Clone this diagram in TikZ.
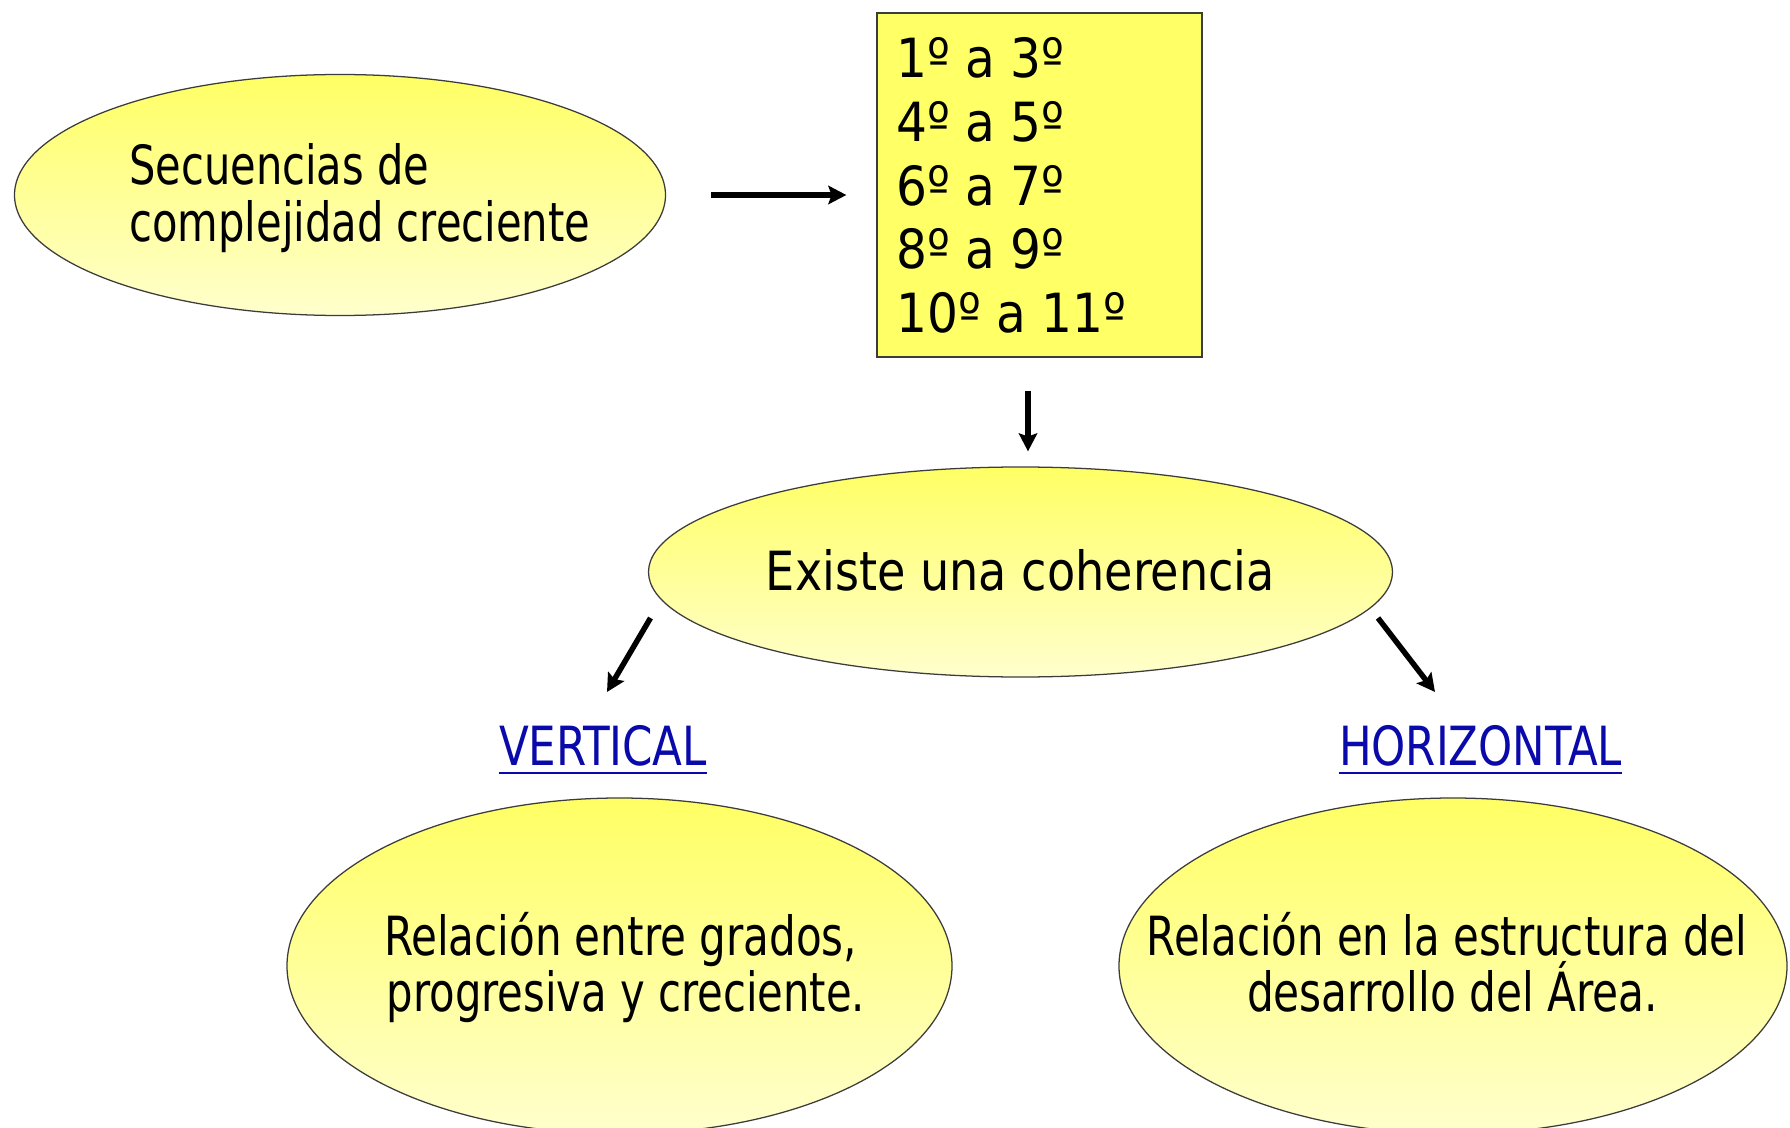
\documentclass[tikz,border=0pt]{standalone}
\usepackage{fontspec}
\usepackage{graphicx}
\setmainfont{DejaVu Sans Condensed}
\usetikzlibrary{shapes.geometric,arrows.meta,calc}
\definecolor{ytop}{RGB}{255,255,100}
\definecolor{ybot}{RGB}{255,255,205}
\definecolor{boxy}{RGB}{255,255,102}
\definecolor{edgec}{RGB}{60,60,60}
\definecolor{lnk}{RGB}{10,10,170}
\newlength\pxu \setlength\pxu{0.25mm}
\newcommand\fw[2]{\resizebox{#1\pxu}{\height}{#2}}
\begin{document}
\begin{tikzpicture}[x=0.25mm,y=-0.25mm,
  oval/.style={ellipse, draw=edgec, line width=0.9pt, top color=ytop, bottom color=ybot, inner sep=0pt},
  txt/.style={inner sep=0pt, font=\fontsize{13.5mm}{16mm}\selectfont},
  arr/.style={-{Stealth[length=4.5mm,width=4.6mm,inset=0.8mm]}, line width=3.9pt}]
\path[use as bounding box, fill=white] (0,0) rectangle (1790,1128);
\clip (0,0) rectangle (1790,1128);

% top-left ellipse
\node[oval, minimum width=651\pxu, minimum height=241\pxu] (seq) at (340,195) {};
\node[txt, anchor=base west] (seq1) at (129,185) {\fw{300}{Secuencias de}};
\node[txt, anchor=base west] (seq2) at (129,242) {\fw{461}{complejidad creciente}};

% grade box
\node[draw=edgec, fill=boxy, line width=0.9pt, minimum width=325\pxu, minimum height=344\pxu, inner sep=0pt] (box) at (1039.5,185) {};
\node[txt, anchor=base west] (g1) at (896,78) {1º a 3º};
\node[txt, anchor=base west] (g2) at (896,142) {4º a 5º};
\node[txt, anchor=base west] (g3) at (896,206) {6º a 7º};
\node[txt, anchor=base west] (g4) at (896,269) {8º a 9º};
\node[txt, anchor=base west] (g5) at (896,333) {10º a 11º};

% middle ellipse
\node[oval, minimum width=744\pxu, minimum height=210\pxu] (coh) at (1020.5,572) {};
\node[txt, anchor=base] (coht) at (1020.5,590) {\fw{509}{Existe una coherencia}};

% labels
\node[txt, text=lnk, anchor=base] (vert) at (603,765) {\fw{208}{VERTICAL}};
\node[txt, text=lnk, anchor=base] (hor) at (1480.5,765) {\fw{283}{HORIZONTAL}};
\draw[lnk, line width=1.4pt] ($(vert.base west)+(0,8)$) -- ($(vert.base east)+(0,8)$);
\draw[lnk, line width=1.4pt] ($(hor.base west)+(0,8)$) -- ($(hor.base east)+(0,8)$);

% bottom ellipses
\node[oval, minimum width=665\pxu, minimum height=336\pxu] (rv) at (619.5,966) {};
\node[txt, anchor=base] (rv1) at (620.5,955) {\fw{473}{Relación entre grados,}};
\node[txt, anchor=base] (rv2) at (626,1011) {\fw{478}{progresiva y creciente.}};
\node[oval, minimum width=668\pxu, minimum height=336\pxu] (rh) at (1453,966) {};
\node[txt, anchor=base] (rh1) at (1447,955) {\fw{600}{Relación en la estructura del}};
\node[txt, anchor=base] (rh2) at (1452.5,1011) {\fw{411}{desarrollo del Área.}};

% connectors
\draw[arr] ($(seq.east)+(45,0)$) -- ($(seq.east -| box.west)+(-30,0)$);
\draw[arr] ($(box.south)+(-11.5,33)$) -- ($(coh.north)+(7.5,-15)$);
\draw[arr] ($(coh.center)+(-370,46)$) -- ($(vert.base)+(4,-73)$);
\draw[arr] ($(coh.center)+(357.5,46)$) -- ($(hor.base)+(-45.5,-73)$);
\end{tikzpicture}
\end{document}
